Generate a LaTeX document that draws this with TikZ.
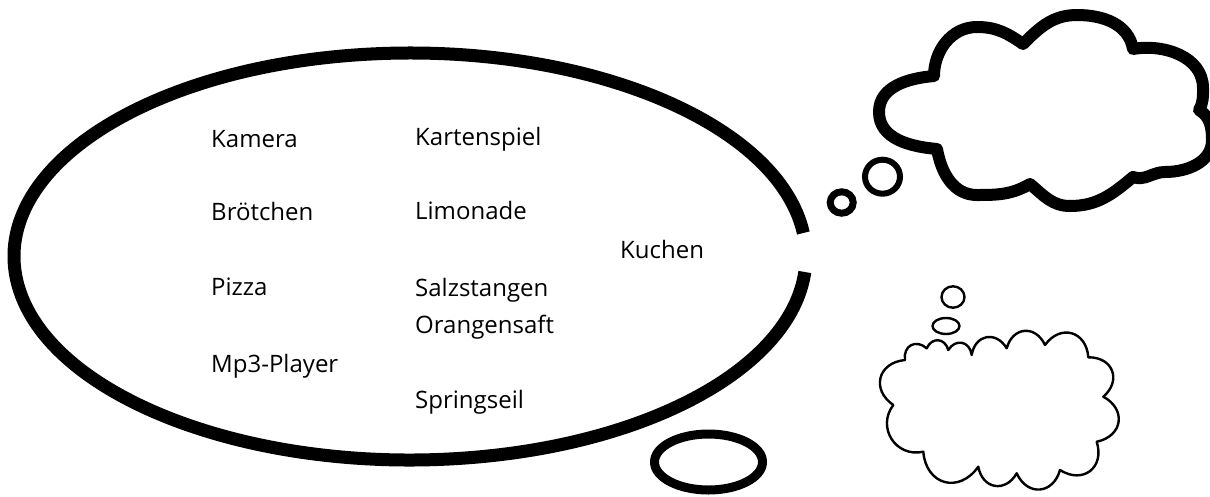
\documentclass[tikz,border=0pt]{standalone}
\usepackage{fontspec}
\setmainfont{Open Sans}
\begin{document}
\begin{tikzpicture}[x=1pt,y=1pt,
  lbl/.style={anchor=base west, inner sep=0pt, font=\fontsize{24}{29}\selectfont},
  bigline/.style={line width=13pt},
  cloudline/.style={line width=12pt, line join=round},
  thinline/.style={line width=2.4pt, line join=round, line cap=round}]
\useasboundingbox (0,0) rectangle (1210,-496);
\clip (0,0) rectangle (1210,-496);

% big thought ellipse with a gap on the right
\coordinate (E) at (410,-256.5);
\draw[bigline] ([shift={(6.63:396 and 203.5)}]E) arc[start angle=6.63, end angle=355.63, x radius=396pt, y radius=203.5pt];

% small oval at the bottom
\draw[line width=9pt] (708.5,-462) ellipse[x radius=54pt, y radius=28pt];

% bubbles towards the top-right cloud
\draw[line width=7pt] (841.7,-202.5) ellipse[x radius=11.5pt, y radius=10.7pt];
\draw[line width=6pt] (882.5,-176.7) ellipse[x radius=17.5pt, y radius=17pt];

% big cloud (top right)
\draw[cloudline] (934,-76) to[out=90,in=180] (977,-27) to[out=0,in=145] (1023,-44)
  to[out=45,in=180] (1077,-15) to[out=0,in=100] (1133,-49)
  to[out=10,in=90] (1203,-88) to[out=-90,in=60] (1199,-110)
  to[out=-30,in=90] (1212,-140) to[out=-90,in=0] (1165,-172) to[out=180,in=-20] (1133,-177)
  to[out=-140,in=0] (1070,-206) to[out=180,in=-40] (1030,-184)
  to[out=-150,in=0] (977,-195) to[out=180,in=-80] (937,-149)
  to[out=175,in=-90] (879,-112) to[out=90,in=185] cycle;

% small hand-drawn cloud (bottom right)
\draw[thinline] (953,-297) ellipse[x radius=11.5pt, y radius=10.7pt];
\draw[thinline] (946,-326) ellipse[x radius=13.5pt, y radius=8pt];
\draw[thinline] (905,-360)
  to[bend left=70,looseness=1.5] (926.7,-348.3)
  to[bend left=70,looseness=1.5] (948.3,-350)
  to[bend left=70,looseness=1.5] (971.7,-355)
  to[bend left=70,looseness=1.5] (1006.7,-348.3)
  to[bend left=70,looseness=1.5] (1045,-345)
  to[bend left=70,looseness=1.5] (1088.3,-357.3)
  to[bend left=70,looseness=1.5] (1103.3,-396.7)
  to[bend left=70,looseness=1.5] (1096.7,-441.7)
  to[bend left=70,looseness=1.5] (1060,-470)
  to[bend left=70,looseness=1.5] (1016.7,-473.3)
  to[bend left=70,looseness=1.5] (978.3,-466.7)
  to[bend left=70,looseness=1.5] (923.3,-451.7)
  to[bend left=70,looseness=1.3] (893.3,-405)
  to[bend left=70,looseness=1.5] cycle;

% labels
\node[lbl] (kamera) at (211,-147) {Kamera};
\node[lbl] (broetchen) at (211,-220) {Brötchen};
\node[lbl] (pizza) at (211,-295) {Pizza};
\node[lbl] (mp3) at (211,-372) {Mp3-Player};
\node[lbl] (karten) at (415,-145) {Kartenspiel};
\node[lbl] (limo) at (415,-219) {Limonade};
\node[lbl] (kuchen) at (620,-258) {Kuchen};
\node[lbl] (salz) at (415,-296) {Salzstangen};
\node[lbl] (orange) at (415,-333) {Orangensaft};
\node[lbl] (seil) at (415,-408) {Springseil};
\end{tikzpicture}
\end{document}
